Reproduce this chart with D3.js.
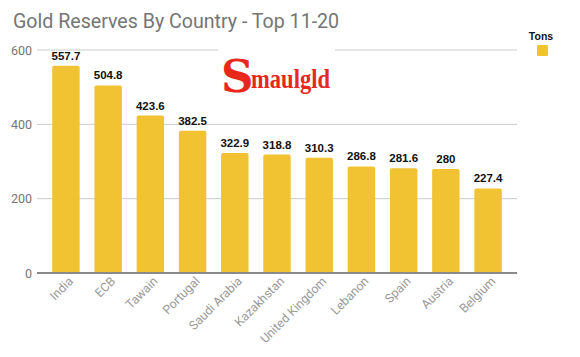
<!DOCTYPE html>
<html>
<head>
<meta charset="utf-8">
<script src="https://cdn.jsdelivr.net/npm/d3@7"></script>
<style>
  html, body { margin: 0; padding: 0; background: #fff; }
  svg { display: block; }
</style>
</head>
<body>
<svg id="chart" width="580" height="357"></svg>
<script>
const categories = ["India", "ECB", "Tawain", "Portugal", "Saudi Arabia", "Kazakhstan", "United Kingdom", "Lebanon", "Spain", "Austria", "Belgium"];
const tons = [557.7, 504.8, 423.6, 382.5, 322.9, 318.8, 310.3, 286.8, 281.6, 280, 227.4];
const valueLabels = ["557.7", "504.8", "423.6", "382.5", "322.9", "318.8", "310.3", "286.8", "281.6", "280", "227.4"];
const yTicks = [0, 200, 400, 600];
const titleText = "Gold Reserves By Country - Top 11-20";
const seriesName = "Tons";

const barColor = "#f1c232";
const svg = d3.select("#chart");

const x = d3.scaleBand().domain(categories).range([37, 517]).paddingInner(0.35).paddingOuter(0.36);
const y = d3.scaleLinear().domain([0, 600]).range([273, 50]);

// gridlines
svg.append("g").selectAll("line").data(yTicks.filter(d => d !== 0)).join("line")
  .attr("x1", 37).attr("x2", 517)
  .attr("y1", d => y(d)).attr("y2", d => y(d))
  .attr("stroke", "#cccccc").attr("stroke-width", 1);

// y labels
svg.append("g").selectAll("text").data(yTicks).join("text")
  .attr("x", 32).attr("y", d => y(d) + 4.5)
  .attr("text-anchor", "end")
  .attr("font-family", "Roboto, Arial, sans-serif").attr("font-size", 12.5)
  .attr("fill", "#757575")
  .text(d => d);

// logo box (white background covering grid)
const logo = svg.append("g");
logo.append("rect").attr("x", 218).attr("y", 44).attr("width", 117).attr("height", 56).attr("fill", "#fff");
logo.append("text").attr("x", 221).attr("y", 92)
  .attr("font-family", "'DejaVu Serif', 'Liberation Serif', serif").attr("font-weight", "bold")
  .attr("font-size", 45).attr("fill", "#e8281a")
  .text("S");
logo.append("text").attr("x", 251).attr("y", 88)
  .attr("font-family", "'Liberation Serif', serif").attr("font-weight", "bold")
  .attr("font-size", 28).attr("fill", "#e8281a")
  .attr("textLength", 79).attr("lengthAdjust", "spacingAndGlyphs")
  .text("maulgld");

// bars
svg.append("g").selectAll("path").data(tons).join("path")
  .attr("fill", barColor)
  .attr("d", (d, i) => {
    const x0 = x(categories[i]), w = x.bandwidth(), yt = y(d), yb = y(0), r = 2;
    return `M${x0},${yb}V${yt + r}Q${x0},${yt} ${x0 + r},${yt}H${x0 + w - r}Q${x0 + w},${yt} ${x0 + w},${yt + r}V${yb}Z`;
  });

// baseline
svg.append("line").attr("x1", 37).attr("x2", 517).attr("y1", y(0)).attr("y2", y(0))
  .attr("stroke", "#8a8a8a").attr("stroke-width", 2);

// value labels
svg.append("g").selectAll("text").data(tons).join("text")
  .attr("x", (d, i) => x(categories[i]) + x.bandwidth() / 2)
  .attr("y", d => y(d) - 6)
  .attr("text-anchor", "middle")
  .attr("font-family", "'Liberation Sans', Arial, sans-serif").attr("font-weight", "bold")
  .attr("font-size", 11.5).attr("fill", "#111")
  .text((d, i) => valueLabels[i]);

// x labels
svg.append("g").selectAll("text").data(categories).join("text")
  .attr("transform", d => `translate(${x(d) + x.bandwidth() / 2 + 8},${282}) rotate(-45)`)
  .attr("text-anchor", "end")
  .attr("font-family", "Roboto, Arial, sans-serif").attr("font-size", 12.3)
  .attr("fill", "#999999")
  .text(d => d);

// title
svg.append("text").attr("x", 13).attr("y", 28)
  .attr("font-family", "Roboto, Arial, sans-serif").attr("font-size", 19.6)
  .attr("fill", "#757575")
  .text(titleText);

// legend
svg.append("text").attr("x", 541).attr("y", 40).attr("text-anchor", "middle")
  .attr("font-family", "'Liberation Sans', Arial, sans-serif").attr("font-weight", "bold")
  .attr("font-size", 10.5).attr("fill", "#111").text(seriesName);
svg.append("rect").attr("x", 537).attr("y", 45).attr("width", 11).attr("height", 11)
  .attr("rx", 1.5).attr("fill", barColor);
</script>
</body>
</html>
